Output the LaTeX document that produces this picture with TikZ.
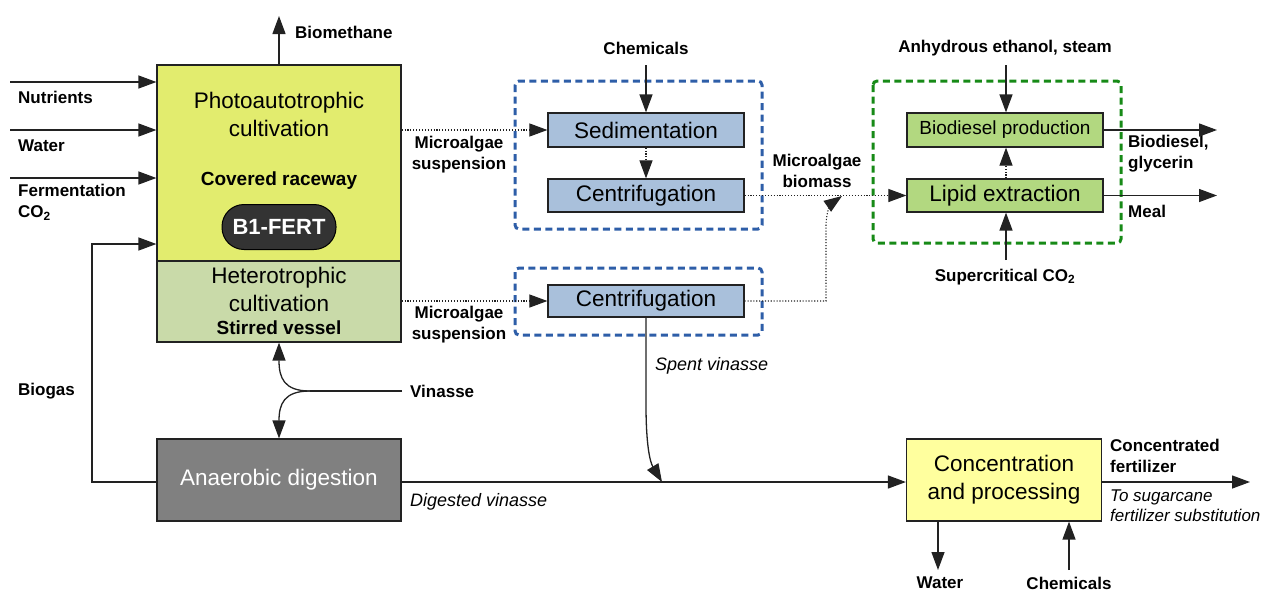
\documentclass[tikz,border=0pt]{standalone}
\usepackage{fontspec}
\setmainfont{Liberation Sans}
\usetikzlibrary{arrows.meta}
\definecolor{photoc}{HTML}{E2EC6E}
\definecolor{heteroc}{HTML}{C9DAA9}
\definecolor{sepc}{HTML}{A9C0DB}
\definecolor{greenc}{HTML}{B2D880}
\definecolor{concc}{HTML}{FFFF9E}
\definecolor{adc}{HTML}{808080}
\definecolor{blued}{HTML}{2E5EA8}
\definecolor{greend}{HTML}{178A17}
\definecolor{linec}{HTML}{222222}
\tikzset{
  box/.style={draw=linec, line width=1.2pt, inner sep=0pt, anchor=center},
  bigtip/.style={-{Triangle[length=18pt,width=13pt]}},
  arr/.style={draw=linec, line width=1.3pt, bigtip},
  ln/.style={draw=linec, line width=1.3pt},
  dotarr/.style={draw=linec, line width=1.1pt, dash pattern=on 1.1pt off 1.8pt, bigtip},
  grp/.style={line width=3pt, dash pattern=on 7pt off 4.5pt, rounded corners=4pt},
  lbl/.style={font=\fontsize{17}{21}\selectfont\bfseries, inner sep=0pt},
  ilbl/.style={font=\fontsize{18}{21}\selectfont\itshape, inner sep=0pt},
  big/.style={font=\fontsize{22.5}{28}\selectfont, inner sep=0pt}
}
\begin{document}
\begin{tikzpicture}[x=1pt,y=-1pt]
\useasboundingbox (0,0) rectangle (1263,592);
% group frames
\draw[grp, blued] (515,81) rectangle (762,229);
\draw[grp, blued] (515,268) rectangle (762,335);
\draw[grp, greend] (873,81) rectangle (1121,243);
% boxes
\node[box, fill=photoc, minimum width=244pt, minimum height=196pt] (photo) at (279,163) {};
\node[box, fill=heteroc, minimum width=244pt, minimum height=81pt] (hetero) at (279,301.5) {};
\node[box, fill=adc, minimum width=244pt, minimum height=82pt, text=white, big] (ad) at (279,480) {Anaerobic digestion};
\node[box, fill=sepc, minimum width=196pt, minimum height=34pt, big] (sed) at (646,130) {Sedimentation};
\node[box, fill=sepc, minimum width=196pt, minimum height=33pt, big] (cen1) at (646,195.5) {Centrifugation};
\node[box, fill=sepc, minimum width=196pt, minimum height=32pt, big] (cen2) at (646,301) {Centrifugation};
\node[box, fill=greenc, minimum width=196pt, minimum height=34pt, font=\fontsize{19}{22}\selectfont] (bio) at (1005,130) {Biodiesel production};
\node[box, fill=greenc, minimum width=196pt, minimum height=33pt, big] (lip) at (1005,195.5) {Lipid extraction};
\node[box, fill=concc, minimum width=195pt, minimum height=82pt, big, align=center] (conc) at (1004,480) {Concentration\\and processing};
% box texts
\node[big, align=center] (phtxt) at (279,114) {Photoautotrophic\\cultivation};
\node[font=\fontsize{19}{22}\selectfont\bfseries, inner sep=0pt] (cov) at (279,181) {Covered raceway};
\node[draw=black, line width=1pt, fill=black!80, rounded corners=22pt, minimum width=114pt, minimum height=45pt, text=white, font=\fontsize{22}{26}\selectfont\bfseries, inner sep=0pt] (b1) at (279,227) {B1-FERT};
\node[big, align=center] (hetxt) at (279,289.5) {Heterotrophic\\cultivation};
\node[font=\fontsize{19}{22}\selectfont\bfseries, inner sep=0pt] (stv) at (279,328) {Stirred vessel};
% labels
\node[lbl, anchor=west] (lbm) at (295,32) {Biomethane};
\node[lbl, anchor=west] (lnut) at (18,97) {Nutrients};
\node[lbl, anchor=west] (lwat) at (18,146) {Water};
\node[lbl, anchor=west, align=left] (lfer) at (18,202.5) {Fermentation\\CO\textsubscript{2}};
\node[lbl, anchor=west] (lbg) at (18,391) {Biogas};
\node[lbl, anchor=west] (lvin) at (410,391) {Vinasse};
\node[lbl, align=center] (lms1) at (459,154.5) {Microalgae\\suspension};
\node[lbl, align=center] (lms2) at (459,325) {Microalgae\\suspension};
\node[lbl] (lch1) at (646,48) {Chemicals};
\node[lbl, align=center] (lmb) at (817,171) {Microalgae\\biomass};
\node[lbl] (lanh) at (1005,48) {Anhydrous ethanol, steam};
\node[lbl] (lsc) at (1005,277) {Supercritical CO\textsubscript{2}};
\node[lbl, anchor=west, align=left] (lbd) at (1128,154) {Biodiesel,\\glycerin};
\node[lbl, anchor=west] (lmeal) at (1128,211) {Meal};
\node[ilbl, anchor=west] (lsv) at (655,366) {Spent vinasse};
\node[ilbl, anchor=west] (ldv) at (410,502) {Digested vinasse};
\node[lbl, anchor=west, align=left] (lcf) at (1110,456) {Concentrated\\fertilizer};
\node[ilbl, anchor=west, align=left, font=\fontsize{17}{20}\selectfont\itshape] (lts) at (1110,506) {To sugarcane\\fertilizer substitution};
\node[lbl] (lwat2) at (940,583) {Water};
\node[lbl] (lch2) at (1069,583) {Chemicals};
% free ends
\coordinate (bmtop) at (279,16);
\coordinate (nutin) at (10,82);
\coordinate (watin) at (10,130);
\coordinate (ferin) at (10,178);
\coordinate (bgx) at (92,244);
\coordinate (vin) at (402,391);
\coordinate (vsplit) at (310,391);
\coordinate (ch1top) at (646,65);
\coordinate (anhtop) at (1006,65);
\coordinate (scbot) at (1006,260);
\coordinate (bdend) at (1217,130);
\coordinate (mealend) at (1217,196);
\coordinate (cfend) at (1250,482);
\coordinate (watend) at (938,570);
\coordinate (ch2bot) at (1069,570);
\coordinate (merge) at (842,196);
\coordinate (svmerge) at (662,482);
% connectors
\draw[arr] (photo.north) -- (bmtop);
\draw[arr] (nutin) -- (nutin -| photo.west);
\draw[arr] (watin) -- (watin -| photo.west);
\draw[arr] (ferin) -- (ferin -| photo.west);
\draw[arr] ([yshift=-2pt]ad.west) -| (bgx) -- (bgx -| photo.west);
\draw[ln] (vin) -- (vsplit);
\draw[arr] (vsplit) .. controls (284,391) and (279,378) .. (hetero.south);
\draw[arr] (vsplit) .. controls (284,391) and (279,404) .. (ad.north);
\draw[arr] ([yshift=-2pt]ad.east) -- ([yshift=-2pt]conc.west);
\draw[arr] (ch1top) -- (sed.north);
\draw[dotarr] (sed.south) -- (cen1.north);
\draw[dotarr] (photo.east |- sed.west) -- (sed.west);
\draw[dotarr] (hetero.east |- cen2.west) -- (cen2.west);
\draw[dotarr] (cen1.east) -- (lip.west);
\draw[dotarr] (cen2.east) -- (826,301) -- (826,226) .. controls (826,210) and (832,203) .. (merge);
\draw[arr] (cen2.south) -- (646,405) .. controls (646,445) and (650,462) .. (svmerge);
\draw[arr] (anhtop) -- (anhtop |- bio.north);
\draw[dotarr] (lip.north -| anhtop) -- (bio.south -| anhtop);
\draw[arr] (scbot) -- (scbot |- lip.south);
\draw[arr] (bio.east) -- (bio.east -| bdend);
\draw[arr] (lip.east) -- (lip.east -| mealend);
\draw[arr] (conc.east |- cfend) -- (cfend);
\draw[arr] (conc.south -| watend) -- (watend);
\draw[arr] (ch2bot) -- (conc.south -| ch2bot);
\end{tikzpicture}
\end{document}
